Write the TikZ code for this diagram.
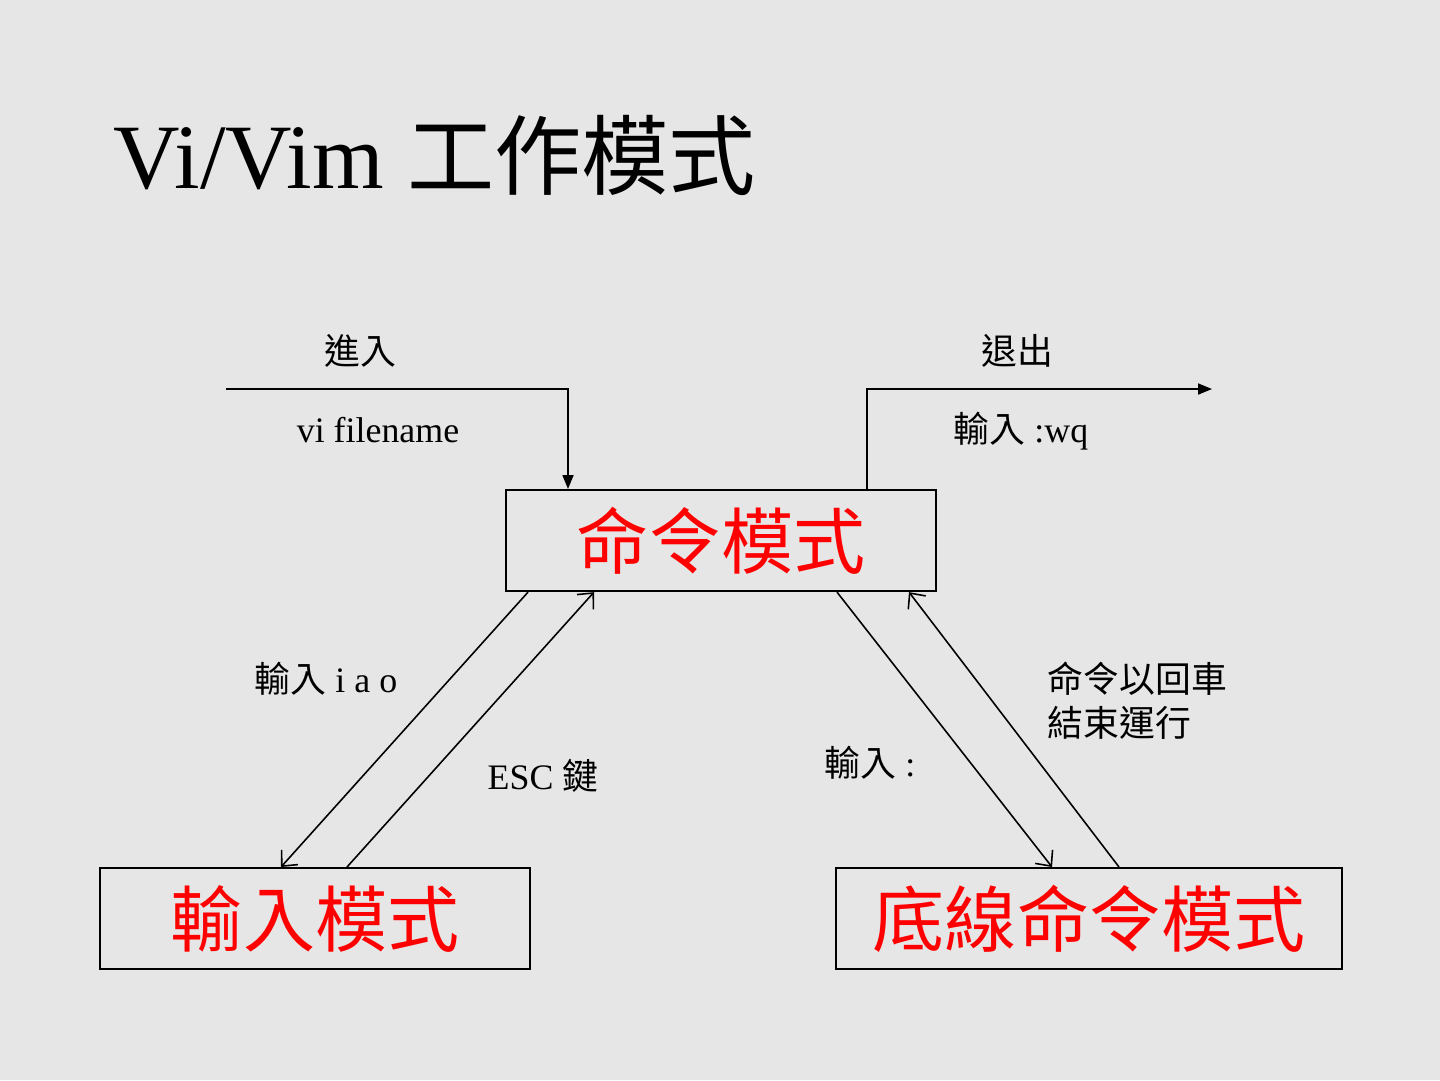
\documentclass[tikz,border=0pt]{standalone}
\usepackage{fontspec}
\setmainfont{Liberation Serif}
\newfontfamily\cjk{Noto Sans CJK TC}
\usetikzlibrary{arrows.meta,calc,positioning}
\definecolor{slide-bg}{HTML}{E6E6E6}
\definecolor{mode-red}{HTML}{FF0000}

\begin{document}
\begin{tikzpicture}[x=0.1mm, y=-0.1mm,
    modebox/.style={draw=black, line width=0.6pt, minimum width=#1, minimum height=10.1mm,
        inner sep=0pt, anchor=north west, text=mode-red, font=\cjk\fontsize{20.5}{24}\selectfont},
    lbl/.style={inner sep=0pt, font=\fontsize{10.2}{12.3}\selectfont},
    link/.style={line width=0.45pt, -{Straight Barb[length=1.2mm, width=2.2mm]}},
    flow/.style={line width=0.5pt, -{Triangle[length=1.4mm, width=1.1mm]}}]
    \fill[slide-bg] (0,0) rectangle (1440,1080);
    \useasboundingbox (0,0) rectangle (1440,1080);

    % title
    \node[inner sep=0pt, anchor=base west, font=\fontsize{26.2}{30}\selectfont] (title) at (113,188)
        {Vi/Vim\hspace{0.25em}{\cjk\fontsize{24.8}{30}\selectfont 工作模式}};

    % the three modes
    \node[modebox=43mm] (cmd) at (505,489) {命令模式};
    \node[modebox=43mm] (ins) at (99,867) {輸入模式};
    \node[modebox=50.6mm] (last) at (835,867) {底線命令模式};

    % enter and quit
    \coordinate (in) at (226,389);
    \coordinate (out) at (1212,389);
    \draw[flow] (in) -| ($(cmd.north west)+(63,0)$);
    \draw[flow] ($(cmd.north west)+(362,0)$) |- (out);
    \node[lbl, font=\cjk\fontsize{10.2}{12.3}\selectfont] (enterlbl) at (360,351) {進入};
    \node[lbl] (vilbl) at (378,430) {vi filename};
    \node[lbl, font=\cjk\fontsize{10.2}{12.3}\selectfont] (quitlbl) at (1017,351) {退出};
    \node[lbl] (wqlbl) at (1021,431) {{\cjk 輸入} :wq};

    % command <-> insert
    \draw[link] ($(cmd.south west)+(23,0)$) -- ($(ins.north west)+(182,0)$);
    \draw[link] ($(ins.north west)+(248,0)$) -- ($(cmd.south west)+(89,0)$);
    \node[lbl] (iaolbl) at (326,679) {{\cjk 輸入} i a o};
    \node[lbl] (esclbl) at (543,776) {ESC {\cjk 鍵}};

    % command <-> last line
    \draw[link] ($(cmd.south west)+(332,0)$) -- ($(last.north west)+(217,0)$);
    \draw[link] ($(last.north west)+(284,0)$) -- ($(cmd.south west)+(404,0)$);
    \node[lbl] (colonlbl) at (870,763) {{\cjk 輸入} :};
    \node[lbl, anchor=base west, align=left, font=\cjk\fontsize{10.2}{12.3}\selectfont] (runlbl) at (1047,736)
        {命令以回車\\結束運行};
\end{tikzpicture}
\end{document}
